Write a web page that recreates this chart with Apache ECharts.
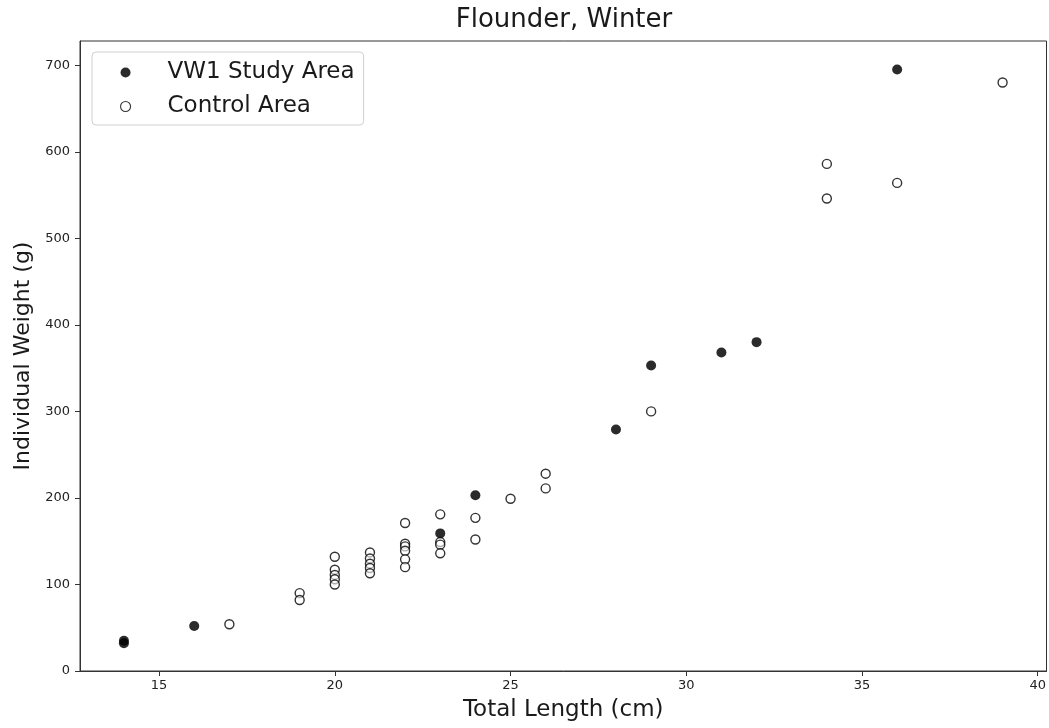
<!DOCTYPE html>
<html>
<head>
<meta charset="utf-8">
<script src="https://cdn.jsdelivr.net/npm/echarts@6/dist/echarts.min.js"></script>
<style>
  html, body { margin: 0; padding: 0; background: #fff; }
  #chart { width: 1049px; height: 728px; }
</style>
</head>
<body>
<div id="chart"></div>
<script>
// Flounder, winter survey: total length (cm) vs individual weight (g)
const studyLength = [14, 14, 16, 23, 24, 28, 29, 31, 32, 36];
const studyWeight = [35, 32, 52, 159, 203, 279, 353, 368, 380, 695];

const controlLength = [17, 19, 19, 20, 20, 20, 20, 20, 21, 21, 21, 21, 21,
  22, 22, 22, 22, 22, 22, 23, 23, 23, 23, 24, 24, 25, 26, 26, 29, 34, 34, 36, 39];
const controlWeight = [54, 90, 82, 132, 117, 111, 106, 100, 137, 130, 124, 119, 113,
  171, 147, 144, 139, 129, 120, 181, 149, 146, 136, 177, 152, 199, 228, 211, 300, 586, 546, 564, 680];

const xTicks = [15, 20, 25, 30, 35, 40];
const yTicks = [0, 100, 200, 300, 400, 500, 600, 700];

const pair = (xs, ys) => xs.map((x, i) => [x, ys[i]]);

const font = 'DejaVu Sans';
const chart = echarts.init(document.getElementById('chart'), null, { renderer: 'canvas' });

chart.setOption({
  animation: false,
  backgroundColor: '#ffffff',
  textStyle: { fontFamily: font },
  grid: {
    left: 80, right: 1, top: 41, bottom: 57,
    show: true, borderColor: '#333', borderWidth: 1, backgroundColor: 'transparent'
  },
  graphic: [{
    type: 'text', x: 564, y: 20,
    style: {
      text: 'Flounder, Winter', fontFamily: font, fontSize: 26, fill: '#1a1a1a',
      align: 'center', verticalAlign: 'middle'
    }
  }],
  legend: {
    orient: 'vertical',
    left: 92, top: 52,
    padding: [9, 9, 7, 28],
    itemGap: 11,
    itemWidth: 10, itemHeight: 10,
    backgroundColor: '#fff',
    borderColor: '#d0d0d0', borderWidth: 1, borderRadius: 4,
    textStyle: { fontFamily: font, fontSize: 23, color: '#1a1a1a', lineHeight: 23, padding: [0, 0, 0, 32] },
    data: [
      'VW1 Study Area',
      { name: 'Control Area', itemStyle: { borderWidth: 1.1 } }
    ]
  },
  xAxis: {
    type: 'value', min: 12.75, max: 40.25,
    name: 'Total Length (cm)', nameLocation: 'middle', nameGap: 28,
    nameTextStyle: { fontFamily: font, fontSize: 23, color: '#1a1a1a' },
    splitLine: { show: false },
    axisLine: { show: true, onZero: false, lineStyle: { color: '#333', width: 1 } },
    axisTick: { show: true, length: 5, customValues: xTicks, lineStyle: { color: '#333' } },
    axisLabel: { customValues: xTicks, margin: 8, fontSize: 13, color: '#222', fontFamily: font }
  },
  yAxis: {
    type: 'value', min: 0, max: 728,
    name: 'Individual Weight (g)', nameLocation: 'middle', nameGap: 39,
    nameTextStyle: { fontFamily: font, fontSize: 22, color: '#1a1a1a' },
    splitLine: { show: false },
    axisLine: { show: true, lineStyle: { color: '#333', width: 1 } },
    axisTick: { show: true, length: 5, customValues: yTicks, lineStyle: { color: '#333' } },
    axisLabel: { customValues: yTicks, margin: 10, fontSize: 13, color: '#222', fontFamily: font }
  },
  series: [
    {
      name: 'VW1 Study Area', type: 'scatter', symbol: 'circle', symbolSize: 10,
      itemStyle: { color: 'rgba(0,0,0,0.83)', opacity: 1 },
      data: pair(studyLength, studyWeight)
    },
    {
      name: 'Control Area', type: 'scatter', symbol: 'circle', symbolSize: 9,
      itemStyle: { color: 'rgba(255,255,255,0.6)', borderColor: 'rgba(0,0,0,0.8)', borderWidth: 1.4, opacity: 1 },
      data: pair(controlLength, controlWeight)
    }
  ]
});
</script>
</body>
</html>
